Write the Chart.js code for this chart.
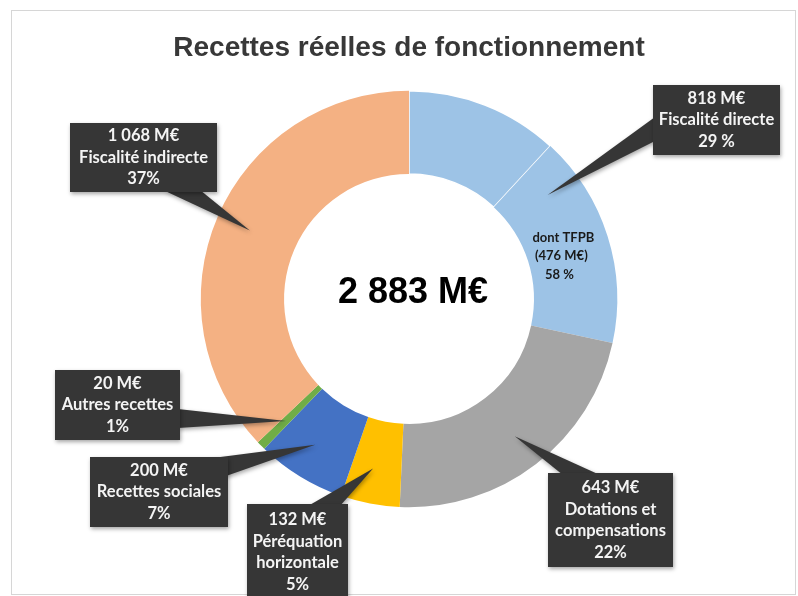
<!DOCTYPE html>
<html>
<head>
<meta charset="utf-8">
<script src="https://cdn.jsdelivr.net/npm/chart.js@4/dist/chart.umd.min.js"></script>
<style>
  html, body { margin: 0; padding: 0; background: #fff; }
  canvas { display: block; }
</style>
</head>
<body>
<canvas id="myChart" width="798" height="596"></canvas>
<script>
// Données (M€)
const fiscaliteDirecte = 818;
const dontTFPB = 476;
const categories = ['Fiscalité directe (hors TFPB)', 'dont TFPB', 'Dotations et compensations', 'Péréquation horizontale', 'Recettes sociales', 'Autres recettes', 'Fiscalité indirecte'];
const montants = [fiscaliteDirecte - dontTFPB, dontTFPB, 643, 132, 200, 20, 1068];
const couleurs = ['#9DC3E6', '#9DC3E6', '#A5A5A5', '#FFC000', '#4472C4', '#70AD47', '#F4B183'];
const totalTexte = '2 883 M€';
const titre = 'Recettes réelles de fonctionnement';
const texteTFPB = ['dont TFPB', '(476 M€)', '58 %'];

// Bulles : texte de chaque étiquette
const bulleTextes = [
    ['818 M€', 'Fiscalité directe', '29 %'],
    ['643 M€', 'Dotations et', 'compensations', '22%'],
    ['132 M€', 'Péréquation', 'horizontale', '5%'],
    ['200 M€', 'Recettes sociales', '7%'],
    ['20 M€', 'Autres recettes', '1%'],
    ['1 068 M€', 'Fiscalité indirecte', '37%']
];

// placement des bulles (mise en page)
const bulles = [
    { slices: [0, 1], f: 0.52, box: [653, 85, 127, 70], base: [[655, 117], [655, 141]] },
    { slices: [2], f: 0.5, box: [548, 473, 125, 94], base: [[563, 475], [600, 475]] },
    { slices: [3], f: 0.57, box: [247, 504, 101, 96], base: [[308, 506], [340, 506]] },
    { slices: [4], f: 0.55, box: [90, 457, 138, 70], base: [[205, 459], [226, 476]] },
    { slices: [5], f: 0.5, box: [55, 370, 125, 70], base: [[178, 409], [178, 428]] },
    { slices: [6], f: 0.5, box: [70, 123, 147, 69], base: [[163, 190], [200, 190]] }
];

// point dans l'anneau : f = fraction de l'angle, rf = fraction du rayon
function pointAnneau(arcs, f, rf) {
    const a0 = arcs[0], a1 = arcs[arcs.length - 1];
    const ang = a0.startAngle + f * (a1.endAngle - a0.startAngle);
    const r = a0.innerRadius + rf * (a0.outerRadius - a0.innerRadius);
    return [a0.x + r * Math.cos(ang), a0.y + r * Math.sin(ang)];
}

const decorPlugin = {
    id: 'decor',
    afterDraw(chart) {
        const ctx = chart.ctx;
        const meta = chart.getDatasetMeta(0);
        ctx.save();

        // cadre
        ctx.strokeStyle = '#d6d6d6';
        ctx.lineWidth = 1;
        ctx.strokeRect(11.5, 10.5, 784, 584);

        // titre
        ctx.fillStyle = '#383838';
        ctx.font = 'bold 28px "Liberation Sans", Arial, sans-serif';
        ctx.textAlign = 'center';
        ctx.textBaseline = 'middle';
        ctx.fillText(titre, 409, 48);

        // total au centre
        const c = meta.data[0];
        ctx.fillStyle = '#000';
        ctx.font = 'bold 36px "Liberation Sans", Arial, sans-serif';
        ctx.fillText(totalTexte, c.x + 4, c.y - 6);

        // texte TFPB dans la tranche
        const pt = pointAnneau([meta.data[1]], 0.53, 0.4);
        ctx.fillStyle = '#1a1a1a';
        ctx.font = 'bold 13px Lato, sans-serif';
        texteTFPB.forEach((l, i) => ctx.fillText(l, pt[0] + 2 - i * 2, pt[1] + (i - 1) * 18.5));

        // bulles
        bulles.forEach((b, i) => {
            const arcs = b.slices.map(s => meta.data[s]);
            const tip = pointAnneau(arcs, b.f, 0.58);
            const [x, y, w, h] = b.box;
            ctx.shadowColor = 'rgba(0,0,0,0.35)';
            ctx.shadowBlur = 4;
            ctx.shadowOffsetX = 1;
            ctx.shadowOffsetY = 2;
            ctx.fillStyle = '#363636';
            ctx.beginPath();
            ctx.moveTo(b.base[0][0], b.base[0][1]);
            ctx.lineTo(tip[0], tip[1]);
            ctx.lineTo(b.base[1][0], b.base[1][1]);
            ctx.closePath();
            ctx.fill();
            ctx.fillRect(x, y, w, h);
            ctx.shadowColor = 'transparent';

            const lignes = bulleTextes[i];
            const lh = 21.5;
            ctx.fillStyle = '#f4f4f4';
            ctx.font = 'bold 16.5px Lato, sans-serif';
            lignes.forEach((l, k) => {
                ctx.fillText(l, x + w / 2, y + h / 2 + (k - (lignes.length - 1) / 2) * lh);
            });
        });
        ctx.restore();
    }
};

const chart = new Chart(document.getElementById('myChart').getContext('2d'), {
    type: 'doughnut',
    data: {
        labels: categories,
        datasets: [{
            data: montants,
            backgroundColor: couleurs,
            borderColor: ['#ffffff', '#9DC3E6', '#A5A5A5', '#FFC000', '#4472C4', '#70AD47', '#F4B183'],
            borderWidth: [1.5, 0, 0, 0, 0, 0, 0]
        }]
    },
    options: {
        responsive: false,
        animation: false,
        devicePixelRatio: 1,
        cutout: '60%',
        layout: { padding: { left: 200, right: 180, top: 90, bottom: 88 } },
        plugins: {
            legend: { display: false },
            tooltip: { enabled: false }
        }
    },
    plugins: [decorPlugin]
});
</script>
</body>
</html>
